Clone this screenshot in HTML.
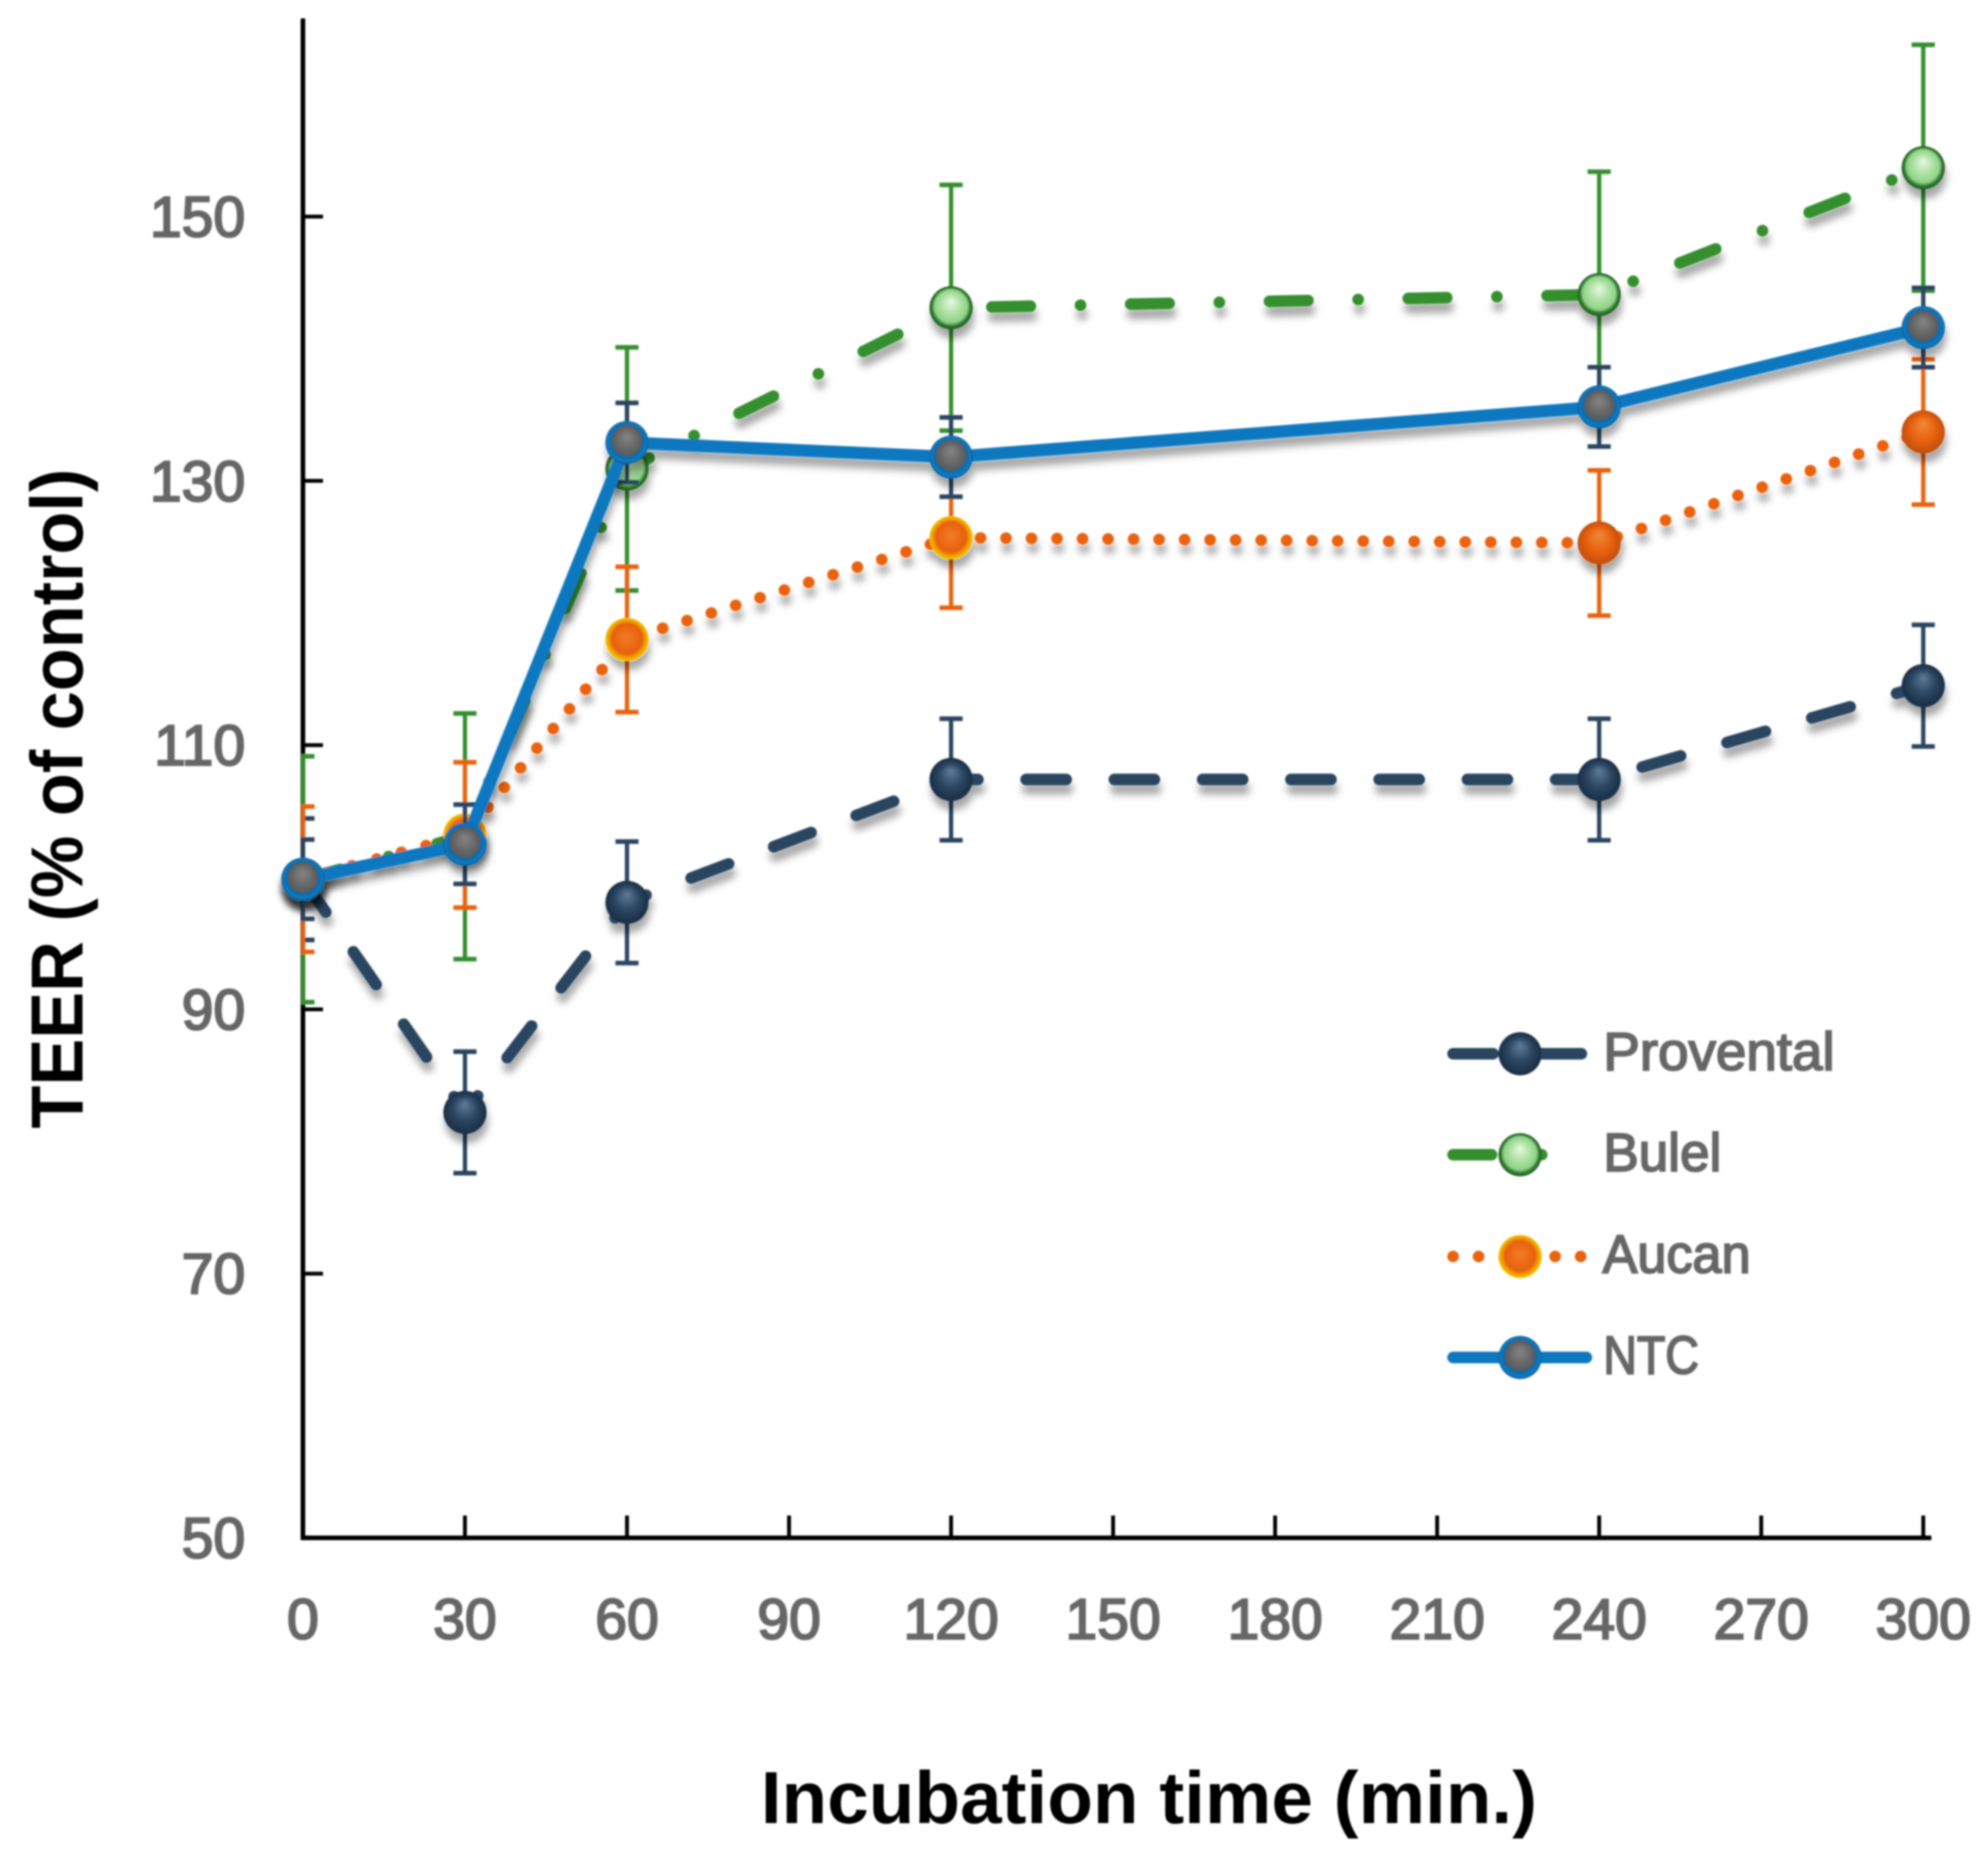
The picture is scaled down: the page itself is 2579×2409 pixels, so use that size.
<!DOCTYPE html>
<html lang="en">
<head>
<meta charset="utf-8">
<title>TEER vs incubation time</title>
<style>
html,body{margin:0;padding:0;background:#fff}
svg{display:block}
text{font-family:"Liberation Sans",sans-serif}
.tick{font-size:74px;font-weight:400;fill:#666;stroke:#666;stroke-width:2.6px}
.leg{font-size:70px;font-weight:400;fill:#666;stroke:#666;stroke-width:2.4px}
.title{font-size:96px;font-weight:700;fill:#000}
</style>
</head>
<body>
<svg id="chart" xmlns="http://www.w3.org/2000/svg" width="2579" height="2409" viewBox="0 0 2579 2409">
<defs>
<filter id="soft" filterUnits="userSpaceOnUse" x="0" y="0" width="2579" height="2409"><feGaussianBlur stdDeviation="1"/></filter>
<filter id="shadow" filterUnits="userSpaceOnUse" x="0" y="0" width="2579" height="2409"><feDropShadow dx="2" dy="12" stdDeviation="5" flood-color="#000" flood-opacity="0.35"/></filter>
<clipPath id="plotClip"><rect x="391" y="0" width="2188" height="2409"/></clipPath>
<radialGradient id="g-provental" cx="50%" cy="50%" r="50%" fx="50%" fy="30%"><stop offset="0" stop-color="#5f7c98"/><stop offset="0.55" stop-color="#2c4763"/><stop offset="1" stop-color="#192d43"/></radialGradient>
<radialGradient id="g-bulel" cx="50%" cy="50%" r="50%" fx="50%" fy="35%"><stop offset="0" stop-color="#e8f9e2"/><stop offset="0.45" stop-color="#aee2a4"/><stop offset="0.76" stop-color="#90d288"/><stop offset="0.88" stop-color="#2f7d2f"/><stop offset="1" stop-color="#1f5a22"/></radialGradient>
<radialGradient id="g-aucan" cx="50%" cy="50%" r="50%" fx="50%" fy="45%"><stop offset="0" stop-color="#ef7d28"/><stop offset="0.7" stop-color="#e8600c"/><stop offset="0.86" stop-color="#f0a000"/><stop offset="1" stop-color="#f6c200"/></radialGradient>
<radialGradient id="g-aucan-plain" cx="50%" cy="50%" r="50%" fx="50%" fy="30%"><stop offset="0" stop-color="#f08a3c"/><stop offset="0.6" stop-color="#e8600c"/><stop offset="1" stop-color="#c04f08"/></radialGradient>
<radialGradient id="g-ntc" cx="50%" cy="50%" r="50%" fx="50%" fy="35%"><stop offset="0" stop-color="#858585"/><stop offset="0.66" stop-color="#5c5c5c"/><stop offset="0.76" stop-color="#0a6aa8"/><stop offset="0.9" stop-color="#0a7cc4"/><stop offset="1" stop-color="#075a94"/></radialGradient>
</defs>
<rect x="0" y="0" width="2579" height="2409" fill="#fff"/>
<g id="root" filter="url(#soft)"></g>
</svg>
<script>
const categories = [0, 30, 60, 120, 240, 300];
const proventalValues = [99.85, 82.2, 98.1, 107.4, 107.4, 114.5];
const bulelValues = [99.85, 103.1, 130.9, 143.1, 144.1, 153.7];
const aucanValues = [99.85, 103.2, 118, 125.7, 125.3, 133.7];
const ntcValues = [99.85, 102.5, 132.9, 131.8, 135.6, 141.6];
const proventalErrors = [4.6, 4.6, 4.6, 4.6, 4.6, 4.6];
const bulelErrors = [9.3, 9.3, 9.2, 9.3, 9.3, 9.3];
const aucanErrors = [5.5, 5.5, 5.5, 5.3, 5.5, 5.5];
const ntcErrors = [3, 3, 3, 3, 3, 3];
const xTickLabels = [0, 30, 60, 90, 120, 150, 180, 210, 240, 270, 300];
const yTickLabels = [50, 70, 90, 110, 130, 150];

const SVGNS = 'http://www.w3.org/2000/svg';
const root = document.getElementById('root');
function xScale(v) { return 393 + v * (2102 / 300); }
function yScale(v) { return 1995 - (v - 50) * 17.14; }
function make(tag, parent) {
  const el = document.createElementNS(SVGNS, tag);
  parent.appendChild(el);
  return el;
}
function setLine(el, x1, y1, x2, y2, color, width) {
  el.setAttribute('x1', x1);
  el.setAttribute('y1', y1);
  el.setAttribute('x2', x2);
  el.setAttribute('y2', y2);
  el.setAttribute('stroke', color);
  el.setAttribute('stroke-width', width);
}

// axes
const yAxis = make('line', root);


setLine(yAxis, xScale(0), yScale(165), xScale(0), yScale(50) + 3, '#000', 6);
const xAxis = make('line', root);


setLine(xAxis, xScale(0) - 3, yScale(50), xScale(301.5), yScale(50), '#000', 6);

yTickLabels.forEach(function (v) {
  const t = make('line', root);
  
  
  setLine(t, xScale(0), yScale(v), xScale(0) + 26, yScale(v), '#000', 5);
  const l = make('text', root);
  
  
  l.setAttribute('class', 'tick');
  l.setAttribute('x', 318);
  l.setAttribute('y', yScale(v) + 26);
  l.setAttribute('text-anchor', 'end');
  l.textContent = v;
});
xTickLabels.forEach(function (v) {
  const t = make('line', root);
  
  
  setLine(t, xScale(v), yScale(50), xScale(v), yScale(50) - 29, '#000', 5);
  const l = make('text', root);
  
  
  l.setAttribute('class', 'tick');
  l.setAttribute('x', xScale(v));
  l.setAttribute('y', 2126);
  l.setAttribute('text-anchor', 'middle');
  l.textContent = v;
});

const seriesList = [
  { key: 'provental', values: proventalValues, errors: proventalErrors, color: '#2a4560', errColor: '#2a4560', dash: '52 62.5', cap: 'round' },
  { key: 'bulel', values: bulelValues, errors: bulelErrors, color: '#368f2e', errColor: '#368f2e', dash: '50 65 0.1 65', cap: 'round' },
  { key: 'aucan', values: aucanValues, errors: aucanErrors, color: '#ea620f', errColor: '#ea620f', dash: '0.1 33', cap: 'round' },
  { key: 'ntc', values: ntcValues, errors: ntcErrors, color: '#0a78bf', errColor: '#2a4560', dash: 'none', cap: 'butt' }
];

seriesList.forEach(function (s) {
  const group = make('g', root);
  
  

  const errGroup = make('g', group);
  
  
  errGroup.setAttribute('clip-path', 'url(#plotClip)');
  categories.forEach(function (c, i) {
    const x = xScale(c);
    const hi = yScale(s.values[i] + s.errors[i]);
    const lo = yScale(s.values[i] - s.errors[i]);
    const stem = make('line', errGroup);
    
    
    setLine(stem, x, hi, x, lo, s.errColor, 5.5);
    const capTop = make('line', errGroup);
    
    
    setLine(capTop, x - 15, hi, x + 15, hi, s.errColor, 6);
    const capBottom = make('line', errGroup);
    
    
    setLine(capBottom, x - 15, lo, x + 15, lo, s.errColor, 6);
  });

  const fx = make('g', group);
  
  
  fx.setAttribute('filter', 'url(#shadow)');
  const line = make('polyline', fx);
  
  
  line.setAttribute('points', categories.map(function (c, i) { return xScale(c) + ',' + yScale(s.values[i]); }).join(' '));
  line.setAttribute('fill', 'none');
  line.setAttribute('stroke', s.color);
  line.setAttribute('stroke-width', s.key === 'ntc' ? 16 : 15);
  line.setAttribute('stroke-linecap', s.cap);
  line.setAttribute('stroke-linejoin', 'round');
  line.setAttribute('stroke-dasharray', s.dash);
  categories.forEach(function (c, i) {
    const m = make('circle', fx);
    
    
    m.setAttribute('cx', xScale(c));
    m.setAttribute('cy', yScale(s.values[i]));
    m.setAttribute('r', 28);
    m.setAttribute('fill', (s.key === 'aucan' && c >= 240) ? 'url(#g-aucan-plain)' : 'url(#g-' + s.key + ')');
  });
});

// legend
const legendLabels = ['Provental', 'Bulel', 'Aucan', 'NTC'];
const legendLabelWidths = [300, 153, 192, 124];
const legendLabelLeft = [2080, 2080, 2079, 2080];
const legendRows = [1367, 1498, 1630, 1761];
const legend = make('g', root);


seriesList.forEach(function (s, i) {
  const row = make('g', legend);
  
  
  const y = legendRows[i];
  const sample = make('line', row);
  
  
  setLine(sample, 1885, y, s.key === 'ntc' ? 2058 : 2052, y, s.color, 15);
  sample.setAttribute('stroke-linecap', 'round');
  sample.setAttribute('stroke-dasharray', s.dash);
  const m = make('circle', row);
  
  
  m.setAttribute('cx', 1972);
  m.setAttribute('cy', y);
  m.setAttribute('r', 28);
  m.setAttribute('fill', 'url(#g-' + s.key + ')');
  const t = make('text', row);
  
  
  t.setAttribute('class', 'leg');
  t.setAttribute('x', legendLabelLeft[i]);
  t.setAttribute('y', y + 21);
  t.setAttribute('textLength', legendLabelWidths[i]);
  t.setAttribute('lengthAdjust', 'spacingAndGlyphs');
  t.textContent = legendLabels[i];
});

// axis titles
const xTitle = make('text', root);


xTitle.setAttribute('class', 'title');
xTitle.setAttribute('x', 987);
xTitle.setAttribute('y', 2365);
xTitle.setAttribute('textLength', 1007);
xTitle.setAttribute('lengthAdjust', 'spacingAndGlyphs');
xTitle.textContent = 'Incubation time (min.)';
const yTitle = make('text', root);


yTitle.setAttribute('class', 'title');
yTitle.setAttribute('transform', 'translate(107 1464) rotate(-90)');
yTitle.setAttribute('textLength', 856);
yTitle.setAttribute('lengthAdjust', 'spacingAndGlyphs');
yTitle.textContent = 'TEER (% of control)';
</script>
</body>
</html>
